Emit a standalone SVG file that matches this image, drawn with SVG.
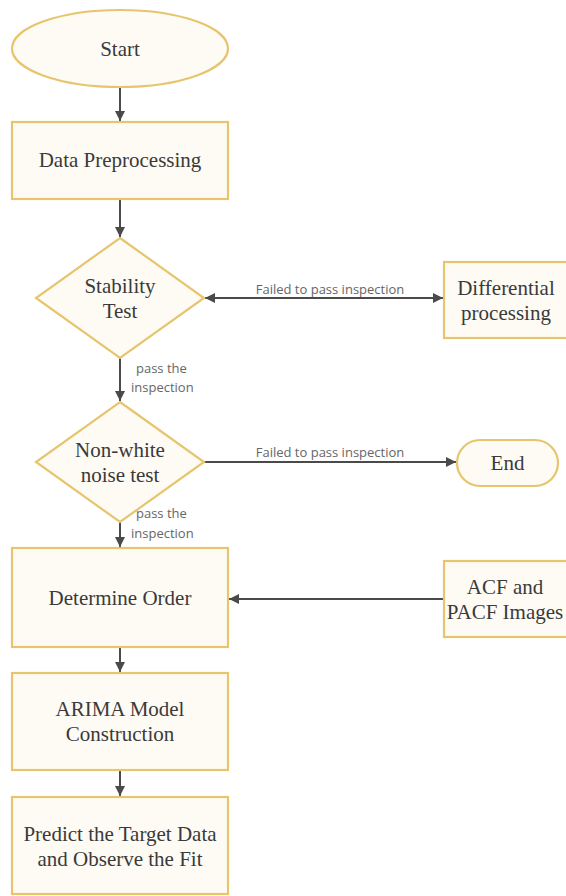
<svg xmlns="http://www.w3.org/2000/svg" width="566" height="896" viewBox="0 0 566 896">
<style>
.shape{fill:#fefbf4;stroke:#e6c56e;stroke-width:2.2}
.t{font-family:'Liberation Serif','Times New Roman',Tinos,'DejaVu Serif',serif;font-size:21px;fill:#3a3a3a;text-anchor:middle}
.lbl{font-family:'Open Sans','Noto Sans',sans-serif;font-size:13px;fill:#666;text-anchor:middle}
.lbll{font-family:'Open Sans','Noto Sans',sans-serif;font-size:13px;fill:#666;text-anchor:start}
.c{stroke:#4a4a4a;stroke-width:2;fill:none}
</style>
<defs>
<marker id="ah" viewBox="0 0 10 10" refX="10" refY="5" markerWidth="5" markerHeight="5" orient="auto-start-reverse" markerUnits="strokeWidth">
<path d="M0,0 L10,5 L0,10 Z" fill="#4a4a4a"/>
</marker>
</defs>
<rect width="566" height="896" fill="#ffffff"/>
<g id="connectors">
<line class="c" x1="120" y1="87" x2="120" y2="121" marker-end="url(#ah)"/>
<line class="c" x1="120" y1="199" x2="120" y2="237" marker-end="url(#ah)"/>
<line class="c" x1="205" y1="298" x2="443" y2="298" marker-start="url(#ah)" marker-end="url(#ah)"/>
<text class="lbl" x="330" y="294">Failed to pass inspection</text>
<line class="c" x1="120" y1="358" x2="120" y2="401" marker-end="url(#ah)"/>
<text class="lbll" x="136" y="373">pass the</text>
<text class="lbll" x="131" y="392">inspection</text>
<line class="c" x1="204" y1="462" x2="456" y2="462" marker-end="url(#ah)"/>
<text class="lbl" x="330" y="457">Failed to pass inspection</text>
<line class="c" x1="120" y1="522" x2="120" y2="547" marker-end="url(#ah)"/>
<text class="lbll" x="136" y="518">pass the</text>
<text class="lbll" x="131" y="538">inspection</text>
<line class="c" x1="444" y1="599" x2="229" y2="599" marker-end="url(#ah)"/>
<line class="c" x1="120" y1="647" x2="120" y2="672" marker-end="url(#ah)"/>
<line class="c" x1="120" y1="770" x2="120" y2="796" marker-end="url(#ah)"/>
</g>
<g id="start">
<ellipse class="shape" cx="120" cy="48.5" rx="108" ry="38.5"/>
<text class="t" font-family="Liberation Serif, serif" x="120" y="56">Start</text>
</g>
<g id="preprocess">
<rect class="shape" x="12" y="122" width="216" height="77"/>
<text class="t" x="120" y="167">Data Preprocessing</text>
</g>
<g id="stability">
<polygon class="shape" points="120,238 204,298 120,358 36,298"/>
<text class="t" x="120" y="292.5">Stability</text>
<text class="t" x="120" y="317.5">Test</text>
</g>
<g id="differential">
<rect class="shape" x="444" y="262" width="126" height="76"/>
<text class="t" x="506" y="294.5">Differential</text>
<text class="t" x="506" y="319.5">processing</text>
</g>
<g id="noise">
<polygon class="shape" points="120,402 204,462 120,522 36,462"/>
<text class="t" x="120" y="456.5">Non-white</text>
<text class="t" x="120" y="481.5">noise test</text>
</g>
<g id="end">
<rect class="shape" x="457" y="440" width="101" height="46" rx="23" ry="23"/>
<text class="t" x="507.5" y="470">End</text>
</g>
<g id="order">
<rect class="shape" x="12" y="548" width="216" height="99"/>
<text class="t" x="120" y="604.5">Determine Order</text>
</g>
<g id="acf">
<rect class="shape" x="444" y="561" width="126" height="76"/>
<text class="t" x="505" y="593.5">ACF and</text>
<text class="t" x="505" y="618.5">PACF Images</text>
</g>
<g id="arima">
<rect class="shape" x="12" y="673" width="216" height="97"/>
<text class="t" x="120" y="716">ARIMA Model</text>
<text class="t" x="120" y="741">Construction</text>
</g>
<g id="predict">
<rect class="shape" x="12" y="797" width="216" height="97"/>
<text class="t" x="120" y="841">Predict the Target Data</text>
<text class="t" x="120" y="866">and Observe the Fit</text>
</g>
</svg>
